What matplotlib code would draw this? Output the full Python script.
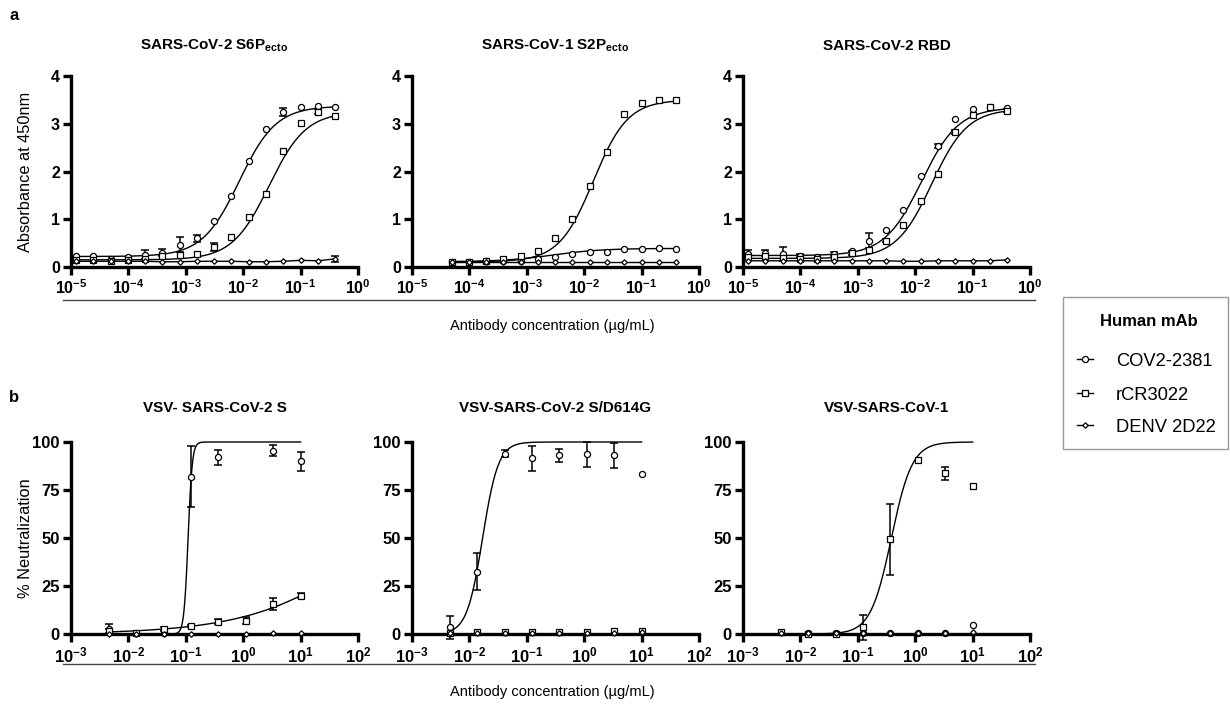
import numpy as np
import matplotlib
matplotlib.use("Agg")
import matplotlib.pyplot as plt
from matplotlib.lines import Line2D
from matplotlib.patches import Rectangle
from matplotlib.ticker import FixedLocator, FixedFormatter, NullLocator

plt.rcParams['font.family'] = ['Liberation Sans', 'DejaVu Sans']
plt.rcParams['mathtext.fontset'] = 'custom'
plt.rcParams['mathtext.rm'] = 'Liberation Sans'
plt.rcParams['mathtext.bf'] = 'Liberation Sans:bold'
plt.rcParams['mathtext.it'] = 'Liberation Sans:italic'
plt.rcParams['mathtext.default'] = 'bf'

# ---------------- data ----------------
series_names = ["COV2-2381", "rCR3022", "DENV 2D22"]

# panel a : ELISA, 2-fold dilutions (ug/mL)
a_conc = [1.22e-5, 2.44e-5, 4.88e-5, 9.77e-5, 1.95e-4, 3.91e-4, 7.81e-4, 1.56e-3,
          3.13e-3, 6.25e-3, 0.0125, 0.025, 0.05, 0.1, 0.2, 0.4]
a2_conc = [4.88e-5, 9.77e-5, 1.95e-4, 3.91e-4, 7.81e-4, 1.56e-3,
           3.13e-3, 6.25e-3, 0.0125, 0.025, 0.05, 0.1, 0.2, 0.4]

a1_cov = [0.22, 0.22, 0.17, 0.20, 0.26, 0.30, 0.47, 0.60, 0.97, 1.48, 2.22, 2.90, 3.25, 3.36, 3.37, 3.36]
a1_cov_err = [0, 0, 0, 0, 0.09, 0.08, 0.15, 0.07, 0, 0, 0, 0, 0.09, 0, 0, 0]
a1_cr = [0.15, 0.15, 0.13, 0.15, 0.17, 0.22, 0.25, 0.27, 0.42, 0.63, 1.05, 1.53, 2.43, 3.02, 3.25, 3.16]
a1_cr_err = [0, 0, 0, 0, 0, 0, 0, 0, 0.08, 0, 0, 0, 0, 0, 0.05, 0]
a1_denv = [0.12, 0.12, 0.12, 0.12, 0.12, 0.11, 0.11, 0.12, 0.12, 0.12, 0.11, 0.11, 0.12, 0.14, 0.13, 0.17]
a1_denv_err = [0, 0, 0, 0, 0, 0, 0, 0, 0, 0, 0, 0, 0, 0, 0, 0.06]

a2_cov = [0.11, 0.11, 0.12, 0.12, 0.13, 0.16, 0.21, 0.28, 0.32, 0.31, 0.38, 0.38, 0.40, 0.38]
a2_cr = [0.11, 0.11, 0.12, 0.17, 0.22, 0.34, 0.60, 1.00, 1.69, 2.41, 3.21, 3.43, 3.49, 3.50]
a2_denv = [0.11, 0.11, 0.11, 0.11, 0.11, 0.11, 0.11, 0.11, 0.11, 0.11, 0.11, 0.11, 0.11, 0.11]

a3_cov = [0.28, 0.30, 0.27, 0.24, 0.20, 0.27, 0.34, 0.55, 0.78, 1.20, 1.91, 2.54, 3.10, 3.31, 3.36, 3.33]
a3_cov_err = [0.08, 0.06, 0.15, 0.03, 0, 0.05, 0, 0.16, 0, 0, 0, 0.04, 0, 0, 0, 0]
a3_cr = [0.20, 0.22, 0.18, 0.17, 0.16, 0.20, 0.30, 0.35, 0.55, 0.88, 1.38, 1.94, 2.82, 3.18, 3.36, 3.27]
a3_cr_err = [0, 0, 0, 0, 0, 0, 0.04, 0, 0.03, 0, 0, 0, 0.04, 0, 0, 0.03]
a3_denv = [0.13, 0.13, 0.13, 0.13, 0.13, 0.13, 0.13, 0.13, 0.13, 0.12, 0.12, 0.13, 0.13, 0.13, 0.13, 0.15]

# 4PL fit parameters (bottom, top, log10 EC50, Hill slope)
a1_cov_fit = (0.22, 3.37, -2.07, 1.35)
a1_cr_fit = (0.15, 3.25, -1.55, 1.35)
a2_cov_fit = (0.11, 0.39, -2.55, 1.0)
a2_cr_fit = (0.11, 3.50, -1.84, 1.45)
a3_cov_fit = (0.24, 3.34, -1.89, 1.35)
a3_cr_fit = (0.18, 3.31, -1.71, 1.4)

# panel b : neutralization, 3-fold dilutions (ug/mL)
b_conc = [0.00457, 0.0137, 0.0412, 0.123, 0.370, 1.11, 3.33, 10.0]

b1_cov = [2.5, 0.3, 0.5, 82.0, 92.0, np.nan, 95.5, 90.0]
b1_cov_err = [2.5, 0, 0, 16.0, 4.0, 0, 3.0, 5.0]
b1_cr = [1.5, 0.3, 2.5, 4.0, 6.5, 7.0, 15.5, 20.0]
b1_cr_err = [1.0, 0, 1.0, 0.5, 1.5, 2.0, 3.0, 1.5]
b1_denv = [0.2, 0.1, 0.2, 0.2, 0.1, 0.2, 0.3, 0.5]

b2_cov = [3.5, 32.5, 94.0, 91.5, 93.0, 93.5, 93.0, 83.5]
b2_cov_err = [6.0, 9.5, 2.0, 6.5, 3.5, 6.5, 6.5, 0]
b2_cr = [0.5, 0.8, 1.0, 1.0, 1.1, 1.2, 1.6, 1.8]
b2_denv = [0.3, 0.6, 0.5, 0.4, 0.5, 0.6, 0.7, 0.8]

b3_cov = [np.nan, 0.3, 0.3, 0.3, 0.3, 0.3, 0.3, 4.5]
b3_cr = [0.8, 0.2, 0.2, 3.5, 49.3, 90.4, 83.6, 77.3]
b3_cr_err = [0, 0, 0, 6.5, 18.5, 0, 3.5, 0]
b3_denv = [0.3, 0.3, 0.3, 0.3, 0.3, 0.3, 0.3, 1.0]

b1_cov_fit = (0.0, 100.0, -0.96, 12.0)
b1_cr_fit = (0.0, 100.0, 2.48, 0.407)
b2_cov_fit = (0.0, 100.0, -1.77, 3.17)
b3_cr_fit = (0.0, 100.0, -0.415, 2.4)

a_titles = ["SARS-CoV-2 S6P$_{ecto}$", "SARS-CoV-1 S2P$_{ecto}$", "SARS-CoV-2 RBD"]
b_titles = ["VSV- SARS-CoV-2 S", "VSV-SARS-CoV-2 S/D614G", "VSV-SARS-CoV-1"]
a_xticks = [1e-5, 1e-4, 1e-3, 1e-2, 1e-1, 1e0]
a_xticklabels = ["$10^{-5}$", "$10^{-4}$", "$10^{-3}$", "$10^{-2}$", "$10^{-1}$", "$10^{0}$"]
b_xticks = [1e-3, 1e-2, 1e-1, 1e0, 1e1, 1e2]
b_xticklabels = ["$10^{-3}$", "$10^{-2}$", "$10^{-1}$", "$10^{0}$", "$10^{1}$", "$10^{2}$"]
a_yticks = [0, 1, 2, 3, 4]
b_yticks = [0, 25, 50, 75, 100]

# ---------------- styles ----------------
W, H = 1230, 705
styles = {
    "COV2-2381": dict(marker='o', ms=4.4, mfc='white', mec='black', mew=0.9),
    "rCR3022": dict(marker='s', ms=4.2, mfc='white', mec='black', mew=0.9),
    "DENV 2D22": dict(marker='D', ms=2.8, mfc='white', mec='black', mew=0.9),
}


def four_pl(x, p):
    bottom, top, logec, hill = p
    return bottom + (top - bottom) / (1.0 + 10 ** ((logec - np.log10(x)) * hill))


def draw_points(ax, x, y, name, err=None):
    x = np.asarray(x, float)
    y = np.asarray(y, float)
    if err is not None:
        e = np.asarray(err, float)
        m = e > 0
        ax.errorbar(x[m], y[m], yerr=e[m], fmt='none', ecolor='black',
                    elinewidth=1.1, capsize=2.8, capthick=1.1, zorder=3, clip_on=False)
    ax.plot(x, y, linestyle='none', zorder=4, clip_on=False, **styles[name])


def draw_fit(ax, x, p):
    xs = np.logspace(np.log10(min(x)), np.log10(max(x)), 400)
    ax.plot(xs, four_pl(xs, p), color='black', lw=1.0, zorder=2, clip_on=False)


def style_axis(ax, xlim, xticks, xticklabels, ylim, yticks, tsize):
    ax.set_xscale('log')
    ax.set_xlim(*xlim)
    ax.set_ylim(*ylim)
    for s in ['top', 'right']:
        ax.spines[s].set_visible(False)
    for s in ['left', 'bottom']:
        ax.spines[s].set_linewidth(2.4)
    ax.xaxis.set_major_locator(FixedLocator(xticks))
    ax.xaxis.set_major_formatter(FixedFormatter(xticklabels))
    ax.xaxis.set_minor_locator(NullLocator())
    ax.set_yticks(yticks)
    ax.set_yticklabels([str(t) for t in yticks])
    ax.tick_params(axis='both', which='major', length=6, width=2.4, labelsize=tsize, pad=2)
    for lab in ax.get_yticklabels():
        lab.set_fontweight('bold')
    ax.patch.set_alpha(0)


fig = plt.figure(figsize=(W / 100, H / 100), dpi=100)

lefts = [71, 412, 743]
axw = 287

# ---- panel a ----
a_sets = [
    (a_conc, [(a1_cov, a1_cov_err, "COV2-2381", a1_cov_fit),
              (a1_cr, a1_cr_err, "rCR3022", a1_cr_fit),
              (a1_denv, a1_denv_err, "DENV 2D22", None)]),
    (a2_conc, [(a2_cov, None, "COV2-2381", a2_cov_fit),
               (a2_cr, None, "rCR3022", a2_cr_fit),
               (a2_denv, None, "DENV 2D22", None)]),
    (a_conc, [(a3_cov, a3_cov_err, "COV2-2381", a3_cov_fit),
              (a3_cr, a3_cr_err, "rCR3022", a3_cr_fit),
              (a3_denv, None, "DENV 2D22", None)]),
]
for i, (xc, sets) in enumerate(a_sets):
    ax = fig.add_axes([lefts[i] / W, 1 - 267 / H, axw / W, 191 / H])
    style_axis(ax, (1e-5, 1e0), a_xticks, a_xticklabels, (0, 4), a_yticks, 11.5)
    for y, e, name, fit in sets:
        if fit is not None:
            draw_fit(ax, xc, fit)
        else:
            ax.plot(xc, y, color='black', lw=1.0, zorder=2)
        draw_points(ax, xc, y, name, e)
    fig.text((lefts[i] + axw / 2) / W, 1 - 46 / H, a_titles[i], ha='center', va='center',
             fontsize=11, fontweight='bold')
    if i == 0:
        ax.set_ylabel("Absorbance at 450nm", fontsize=11.8)
        ax.yaxis.set_label_coords((33 - 71) / axw, 0.5)

# ---- panel b ----
b_sets = [
    [(b1_cov, b1_cov_err, "COV2-2381", b1_cov_fit),
     (b1_cr, b1_cr_err, "rCR3022", b1_cr_fit),
     (b1_denv, None, "DENV 2D22", None)],
    [(b2_cov, b2_cov_err, "COV2-2381", b2_cov_fit),
     (b2_cr, None, "rCR3022", None),
     (b2_denv, None, "DENV 2D22", None)],
    [(b3_cov, None, "COV2-2381", None),
     (b3_cr, b3_cr_err, "rCR3022", b3_cr_fit),
     (b3_denv, None, "DENV 2D22", None)],
]
for i, sets in enumerate(b_sets):
    ax = fig.add_axes([lefts[i] / W, 1 - 634 / H, axw / W, 192 / H])
    style_axis(ax, (1e-3, 1e2), b_xticks, b_xticklabels, (0, 100), b_yticks, 12)
    for y, e, name, fit in sets:
        if fit is not None:
            draw_fit(ax, b_conc, fit)
        draw_points(ax, b_conc, y, name, e)
    fig.text((lefts[i] + axw / 2) / W, 1 - 408 / H, b_titles[i], ha='center', va='center',
             fontsize=11, fontweight='bold')
    if i == 0:
        ax.set_ylabel("% Neutralization", fontsize=11.8)
        ax.yaxis.set_label_coords((33 - 71) / axw, 0.5)

# shared x-axis titles with separator lines
fig.add_artist(Line2D([63 / W, 1035 / W], [1 - 300 / H] * 2, color='#444444', lw=1.0))
fig.text(552 / W, 1 - 326 / H, "Antibody concentration (µg/mL)", ha='center', va='center', fontsize=10.5)
fig.add_artist(Line2D([63 / W, 1035 / W], [1 - 664 / H] * 2, color='#444444', lw=1.0))
fig.text(552 / W, 1 - 692 / H, "Antibody concentration (µg/mL)", ha='center', va='center', fontsize=10.5)

# panel letters
fig.text(14 / W, 1 - 16 / H, "a", fontsize=12, fontweight='bold', ha='center', va='center')
fig.text(14 / W, 1 - 398 / H, "b", fontsize=12, fontweight='bold', ha='center', va='center')

# legend (drawn as a boxed key)
fig.add_artist(Rectangle((1063 / W, 1 - 449 / H), 165 / W, 152 / H, transform=fig.transFigure,
                         facecolor='white', edgecolor='#999999', lw=1.0))
fig.text(1149 / W, 1 - 322 / H, "Human mAb", ha='center', va='center', fontsize=12, fontweight='bold')
entry_y = [359, 393, 425]
for name, yy in zip(series_names, entry_y):
    fig.add_artist(Line2D([1077 / W, 1093 / W], [1 - yy / H] * 2, color='black', lw=1.0))
    fig.add_artist(Line2D([1085 / W], [1 - yy / H], linestyle='none', **styles[name]))
    fig.text(1116 / W, 1 - (yy + 2) / H, name, ha='left', va='center', fontsize=13.2)

fig.savefig("out.png", dpi=100)
